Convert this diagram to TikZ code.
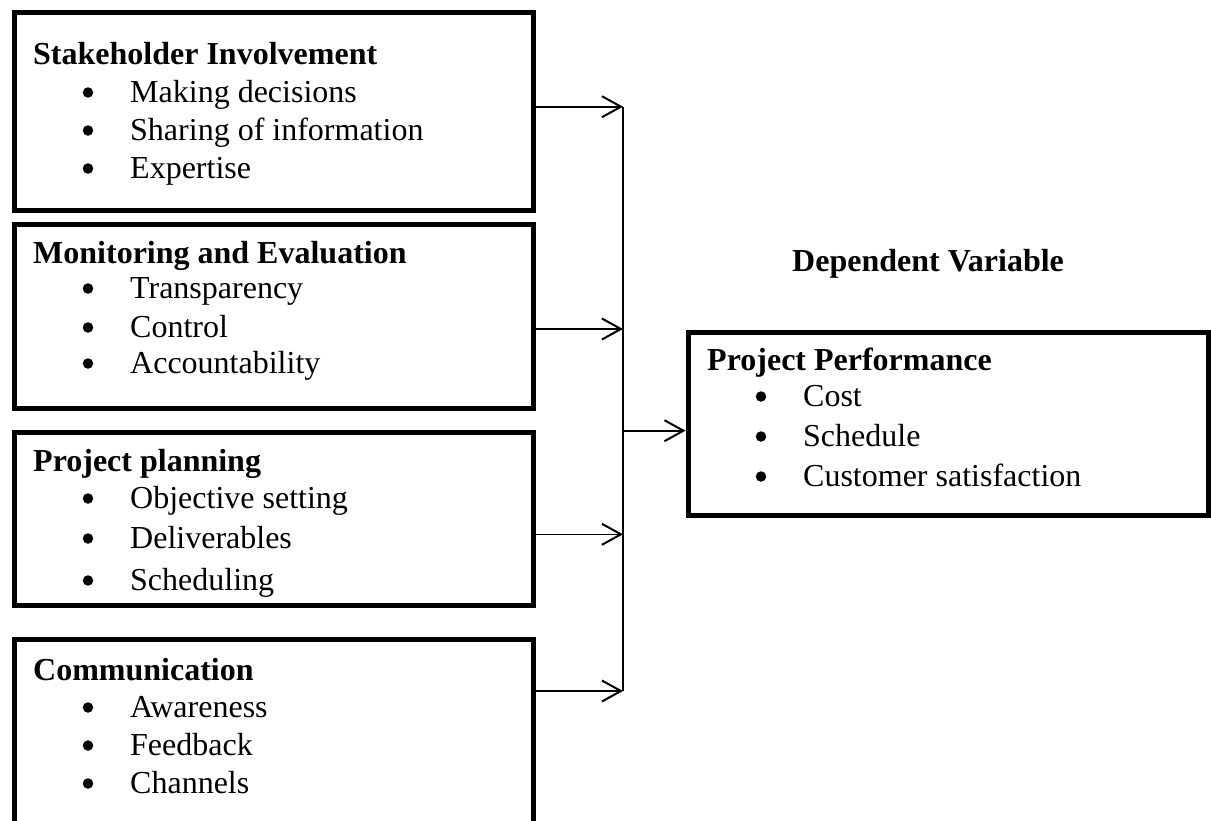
\documentclass[tikz,border=0pt]{standalone}
\usepackage{fontspec}
\setmainfont{Liberation Serif}
\usetikzlibrary{arrows.meta}
\begin{document}
\begin{tikzpicture}[x=1pt,y=-1pt,
  box/.style={draw=black, line width=5pt, anchor=north west, inner sep=0pt, minimum width=519.5pt},
  ttl/.style={font=\fontsize{32pt}{38pt}\selectfont\bfseries, anchor=base west, inner sep=0pt},
  itm/.style={font=\fontsize{32pt}{38pt}\selectfont, anchor=base west, inner sep=0pt},
  bul/.style={circle, fill=black, inner sep=0pt, minimum size=10.5pt},
  conn/.style={line width=1.6pt, -{Straight Barb[length=19pt, width=21pt, line width=2pt]}},
  bus/.style={line width=1.6pt}]
\useasboundingbox (0,0) rectangle (1211,820);
\fill[white] (0,0) rectangle (1211,820);
\newcommand\bitem[4]{\node[bul] (#1b) at (#2-42,#3-9.5) {};\node[itm] (#1) at (#2,#3) {#4};}
% boxes
\node[box, minimum height=198.5pt] (b1) at (11.5,9.5) {};
\node[box, minimum height=184pt] (b2) at (11.5,222) {};
\node[box, minimum height=173pt] (b3) at (11.5,430) {};
\node[box, minimum height=260pt] (b4) at (11.5,637) {};
\node[box, minimum width=520.5pt, minimum height=183pt] (pp) at (685.5,330) {};
% box 1
\node[ttl] (t1) at (33,64) {Stakeholder Involvement};
\bitem{i11}{130}{102}{Making decisions}
\bitem{i12}{130}{140}{Sharing of information}
\bitem{i13}{130}{178}{Expertise}
% box 2
\node[ttl] (t2) at (33,263) {Monitoring and Evaluation};
\bitem{i21}{130}{298}{Transparency}
\bitem{i22}{130}{337}{Control}
\bitem{i23}{130}{373}{Accountability}
% box 3
\node[ttl] (t3) at (33,471) {Project planning};
\bitem{i31}{130}{508}{Objective setting}
\bitem{i32}{130}{548}{Deliverables}
\bitem{i33}{130}{590}{Scheduling}
% box 4
\node[ttl] (t4) at (33,680) {Communication};
\bitem{i41}{130}{717}{Awareness}
\bitem{i42}{130}{755}{Feedback}
\bitem{i43}{130}{793}{Channels}
% right box
\node[ttl] (dv) at (792,271) {Dependent Variable};
\node[ttl] (t5) at (707,370) {Project Performance};
\bitem{i51}{803}{406}{Cost}
\bitem{i52}{803}{446}{Schedule}
\bitem{i53}{803}{486}{Customer satisfaction}
% connectors
\coordinate (j1) at (623,106.7);
\coordinate (j2) at (623,329);
\coordinate (j3) at (623,534.3);
\coordinate (j4) at (623,691);
\coordinate (j0) at (623,430.7);
\draw[conn] (b1.east |- j1) -- (j1);
\draw[conn] (b2.east |- j2) -- (j2);
\draw[conn] (b3.east |- j3) -- (j3);
\draw[conn] (b4.east |- j4) -- (j4);
\draw[bus] (j1) -- (j4);
\draw[conn] (j0) -- (pp.west |- j0);
\end{tikzpicture}
\end{document}
